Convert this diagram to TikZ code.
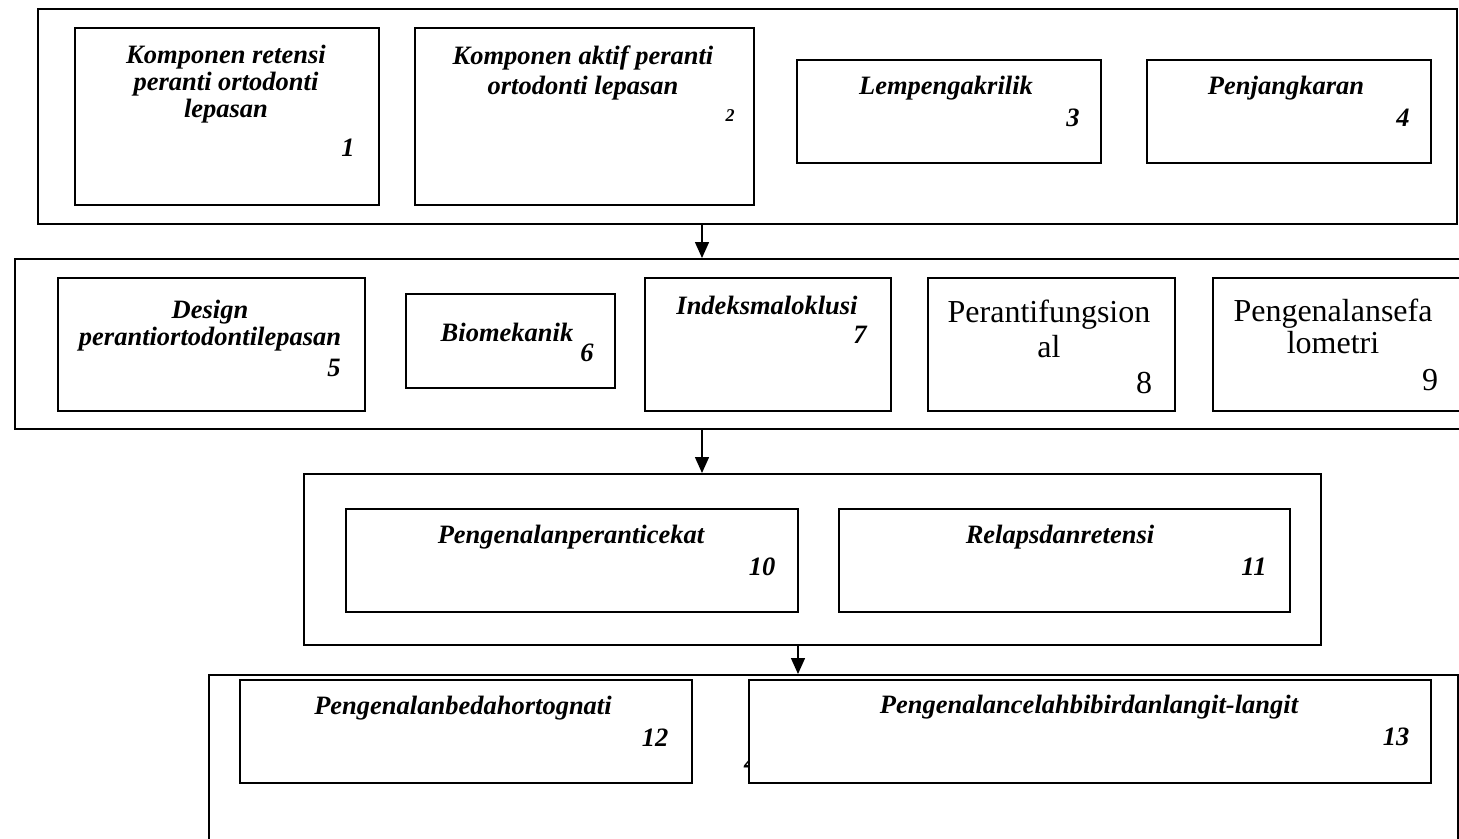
\documentclass[tikz,border=0pt]{standalone}
\usepackage{fontspec}
\setmainfont{Liberation Serif}
\usetikzlibrary{arrows.meta}
\usetikzlibrary{positioning}

\tikzset{
  bingkai/.style={draw, line width=1.8pt, inner sep=0pt, anchor=north west},
  kotak/.style={draw, fill=white, line width=1.8pt, inner sep=0pt, anchor=north west},
  judul/.style={font=\fontsize{26.5}{27}\selectfont\bfseries\itshape, align=center, inner sep=0pt},
  nomor/.style={font=\fontsize{26.5}{27}\selectfont\bfseries\itshape, inner sep=0pt},
  tegak/.style={font=\fontsize{32}{35}\selectfont, align=center, inner sep=0pt},
  nomortegak/.style={font=\fontsize{32}{32}\selectfont, inner sep=0pt},
  panah/.style={line width=1.5pt, -{Triangle[length=16pt,width=14pt]}}
}

\begin{document}
\begin{tikzpicture}[x=1pt,y=-1pt]
    \useasboundingbox (0,0) rectangle (1459,838);
    \clip (0,0) rectangle (1459,838);
    \node[bingkai, minimum width=1419, minimum height=215] (row1) at (37,8) {};
    \node[kotak, minimum width=304, minimum height=177] (k1) at (74,27) {};
    \node[kotak, minimum width=339, minimum height=177] (k2) at (414,27) {};
    \node[kotak, minimum width=304, minimum height=103] (k3) at (796,59) {};
    \node[kotak, minimum width=284, minimum height=103] (k4) at (1146,59) {};
    \node[judul] (t1) at (226,84) {Komponen retensi\\peranti ortodonti\\lepasan};
    \node[nomor] (n1) at (348,148) {1};
    \node[judul] (t2) at (583,73) {Komponen aktif peranti\\[3pt]ortodonti lepasan};
    \node[nomor, font=\fontsize{18}{18}\selectfont\bfseries\itshape] (n2) at (730,116) {2};
    \node[judul] (t3) at (946,88) {Lempengakrilik};
    \node[nomor] (n3) at (1073,118) {3};
    \node[judul] (t4) at (1286,88) {Penjangkaran};
    \node[nomor] (n4) at (1403,118) {4};

    \node[bingkai, minimum width=1460, minimum height=170] (row2) at (14,258) {};
    \node[kotak, minimum width=307, minimum height=133] (k5) at (57,277) {};
    \node[kotak, minimum width=209, minimum height=94] (k6) at (405,293) {};
    \node[kotak, minimum width=246, minimum height=133] (k7) at (644,277) {};
    \node[kotak, minimum width=247, minimum height=133] (k8) at (927,277) {};
    \node[kotak, minimum width=260, minimum height=133] (k9) at (1212,277) {};
    \node[judul] (t5) at (210,326) {Design\\perantiortodontilepasan};
    \node[nomor] (n5) at (334,368) {5};
    \node[judul] (t6) at (507,332) {Biomekanik};
    \node[nomor] (n6) at (587,353) {6};
    \node[judul] (t7) at (767,305) {Indeksmaloklusi};
    \node[nomor] (n7) at (860,335) {7};
    \node[tegak] (t8) at (1049,329) {Perantifungsion\\al};
    \node[nomortegak] (n8) at (1144,383) {8};
    \node[tegak, font=\fontsize{32}{32}\selectfont] (t9) at (1333,326) {Pengenalansefa\\lometri};
    \node[nomortegak] (n9) at (1430,380) {9};

    \node[bingkai, minimum width=1017, minimum height=171] (row3) at (303,473) {};
    \node[kotak, minimum width=452, minimum height=103] (k10) at (345,508) {};
    \node[kotak, minimum width=451, minimum height=103] (k11) at (838,508) {};
    \node[judul] (t10) at (571,537) {Pengenalanperanticekat};
    \node[nomor] (n10) at (762,567) {10};
    \node[judul] (t11) at (1060,537) {Relapsdanretensi};
    \node[nomor] (n11) at (1254,567) {11};

    \node[bingkai, minimum width=1249, minimum height=200] (row4) at (208,674) {};
    \node[kotak, minimum width=452, minimum height=103] (k12) at (239,679) {};
    \node[nomor, anchor=base west] (sisa) at (744,771) {4};
    \node[kotak, minimum width=682, minimum height=103] (k13) at (748,679) {};
    \node[judul] (t12) at (463,708) {Pengenalanbedahortognati};
    \node[nomor] (n12) at (655,738) {12};
    \node[judul] (t13) at (1089,707) {Pengenalancelahbibirdanlangit-langit};
    \node[nomor] (n13) at (1396,737) {13};

    \coordinate (p1) at (702,0);
    \coordinate (p2) at (798,0);
    \draw[panah] (p1 |- row1.south) -- (p1 |- row2.north);
    \draw[panah] (p1 |- row2.south) -- (p1 |- row3.north);
    \draw[panah] (p2 |- row3.south) -- (p2 |- row4.north);
  \end{tikzpicture}
\end{document}
